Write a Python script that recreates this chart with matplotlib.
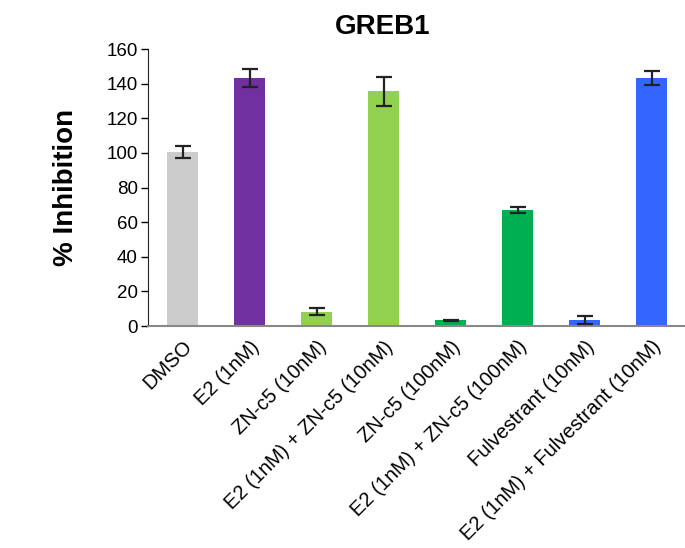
import matplotlib.pyplot as plt
from matplotlib import font_manager

names = {f.name for f in font_manager.fontManager.ttflist}
base = 'Liberation Sans Narrow' if 'Liberation Sans Narrow' in names else 'Liberation Sans'
plt.rcParams['font.family'] = [base, 'DejaVu Sans']

labels = ['DMSO', 'E2 (1nM)', 'ZN-c5 (10nM)', 'E2 (1nM) + ZN-c5 (10nM)',
          'ZN-c5 (100nM)', 'E2 (1nM) + ZN-c5 (100nM)', 'Fulvestrant (10nM)',
          'E2 (1nM) + Fulvestrant (10nM)']
values = [100.5, 143, 8.3, 135.5, 3.3, 67, 3.3, 143.5]
errors = [3.5, 5.2, 2.0, 8.5, 0.4, 1.5, 2.3, 4.0]
colors = ['#cccccc', '#7030a0', '#92d050', '#92d050', '#00b050', '#00b050',
          '#3366ff', '#3366ff']

fig = plt.figure(figsize=(6.85, 5.48), dpi=100)
ax = fig.add_axes([0.2156, 0.405, 0.7844, 0.5055])

x = list(range(len(labels)))
ax.bar(x, values, width=0.46, color=colors, zorder=2)
ax.errorbar(x, values, yerr=errors, fmt='none', ecolor='#222222',
            elinewidth=1.6, capsize=5.5, capthick=1.6, zorder=3)

ax.set_xlim(-0.52, 7.5)
ax.set_ylim(0, 160)
ax.set_yticks(range(0, 161, 20))
ax.tick_params(axis='y', labelsize=13.5, length=5, width=1, direction='out', pad=2)
ax.tick_params(axis='x', length=0, pad=8)
ax.set_xticks(x)
ax.set_xticklabels(labels, rotation=45, ha='right', rotation_mode='anchor',
                   fontsize=14.5)

for s in ['top', 'right']:
    ax.spines[s].set_visible(False)
ax.spines['left'].set_color('#222222')
ax.spines['bottom'].set_color('#888888')
ax.spines['bottom'].set_linewidth(1.5)

ax.set_ylabel('% Inhibition', fontsize=20, fontweight='bold', labelpad=20)
fig.text(0.559, 0.95, 'GREB1', fontsize=20, fontweight='bold', ha='center', va='center')

fig.savefig('out.png', dpi=100)
